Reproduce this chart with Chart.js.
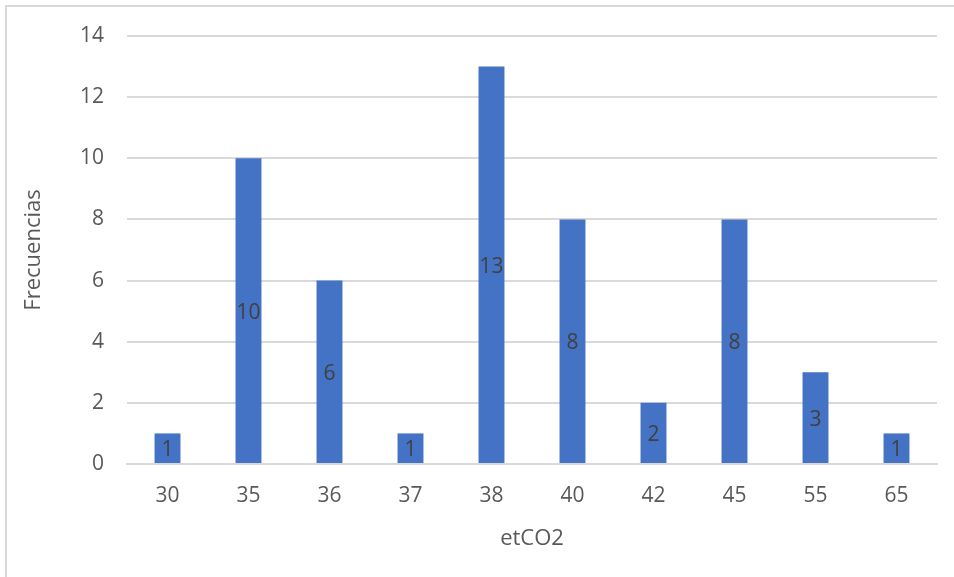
<!DOCTYPE html>
<html><head><meta charset="utf-8">
<script src="https://cdn.jsdelivr.net/npm/chart.js@4/dist/chart.umd.min.js"></script>
<style>
html,body{margin:0;padding:0;background:#fff;}
#wrap{position:absolute;left:0;top:0;width:954px;height:577px;}
#frame{position:absolute;left:5px;top:5px;width:1000px;height:700px;border:2px solid #d9d9d9;box-sizing:border-box;}
canvas{position:absolute;left:0;top:0;}
</style></head>
<body>
<div id="wrap"><div id="frame"></div><canvas id="c" width="954" height="577"></canvas></div>
<script>
const categories = ['30','35','36','37','38','40','42','45','55','65'];
const frecuencias = [1,10,6,1,13,8,2,8,3,1];
const yTicks = [0,2,4,6,8,10,12,14];

const FONT = "'Open Sans', sans-serif";
const labelPlugin = {
  id:'centerLabels',
  afterDatasetsDraw(chart){
    const ctx = chart.ctx;
    const meta = chart.getDatasetMeta(0);
    ctx.save();
    ctx.font = "21px " + FONT;
    ctx.fillStyle = '#404040';
    ctx.textAlign = 'center';
    ctx.textBaseline = 'middle';
    meta.data.forEach((bar,i)=>{
      const yc = (bar.y + bar.base)/2 + 2;
      ctx.fillText(String(chart.data.datasets[0].data[i]), bar.x, yc);
    });
    ctx.restore();
  }
};

new Chart(document.getElementById('c'), {
  type:'bar',
  data:{labels:categories, datasets:[{data:frecuencias, backgroundColor:'#4472C4', borderWidth:0, barPercentage:0.32, categoryPercentage:1}]},
  options:{
    responsive:false, animation:false, devicePixelRatio:1,
    layout:{padding:{left:21,right:17,top:36,bottom:0}},
    plugins:{legend:{display:false}, tooltip:{enabled:false}},
    scales:{
      x:{
        grid:{display:false, drawTicks:false},
        border:{display:true, color:'#d9d9d9', width:2},
        ticks:{color:'#595959', font:{family:FONT,size:21}, padding:19, maxRotation:0},
        title:{display:true, text:'etCO2', color:'#595959', font:{family:FONT,size:22}, padding:{top:0,bottom:25}},
        afterFit(s){ s.height = 113; }
      },
      y:{
        min:0, max:14,
        afterBuildTicks(s){ s.ticks = yTicks.map(v=>({value:v})); },
        grid:{color:'#d9d9d9', lineWidth:2, drawTicks:false},
        border:{display:false},
        ticks:{color:'#595959', font:{family:FONT,size:21}, padding:23},
        title:{display:true, text:'Frecuencias', color:'#595959', font:{family:FONT,size:22}, padding:{top:0,bottom:0}},
        afterFit(s){ s.width = 106; }
      }
    }
  },
  plugins:[labelPlugin]
});
</script>
</body></html>
